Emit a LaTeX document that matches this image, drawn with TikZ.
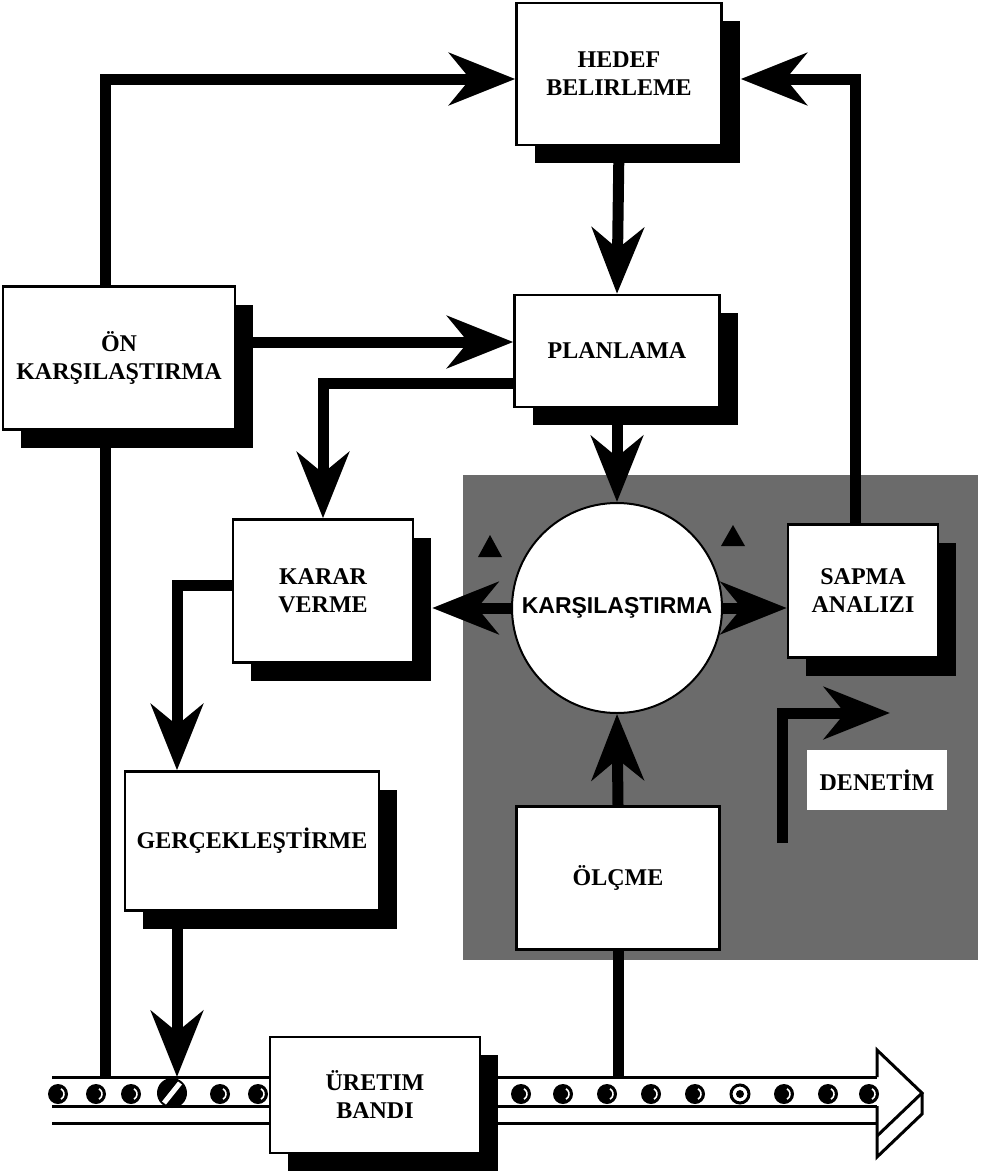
\documentclass[tikz,border=0pt]{standalone}
\usepackage{fontspec}
\setmainfont{Liberation Serif}
\setsansfont{Liberation Sans}
\usetikzlibrary{arrows.meta,shadows}

\tikzset{
  plainbox/.style={draw, line width=2.5pt, fill=white, align=center, inner sep=0pt,
    font=\fontsize{24}{28}\selectfont\bfseries},
  box/.style={plainbox,
    drop shadow={shadow xshift=18pt, shadow yshift=-18pt, fill=black, opacity=1}},
  arr/.style={line width=11pt, -{Stealth[length=66pt, width=52pt, inset=21pt]}},
  feed/.style={line width=11pt},
  band/.style={line width=3pt, line join=miter},
}

\begin{document}
\begin{tikzpicture}[x=1pt, y=-1pt]
  \useasboundingbox (0,0) rectangle (990,1175);
  % denetim alani
  \fill[black!58] (463,475) rectangle (978,960);
  % uretim bandi
  \foreach \xa/\xb in {52/270, 480/877}{
    \draw[band] (\xa,1077) -- (\xb,1077);
    \draw[band] (\xa,1106) -- (\xb,1106);
    \draw[band] (\xa,1123) -- (\xb,1123);
  }
  \draw[band] (877,1077) -- (877,1050) -- (922,1093) -- (877,1136);
  \draw[band] (922,1093) -- (922,1114) -- (877,1157) -- (877,1106);
  \foreach \x in {58,96,131,220,258,521,563,607,651,695,784,828,869}{
    \fill (\x,1094) circle (10);
    \draw[white, line width=1.6pt] ([shift={(-60:6)}]\x,1094) arc[start angle=-60, end angle=60, radius=6];
  }
  \draw[line width=3pt, fill=white] (740,1094) circle (9);
  \fill (740,1094) circle (4);
  \fill (172,1093) circle (15);
  \draw[white, line width=5pt] (164,1103) -- (180,1083);

  \node[box, minimum width=205pt, minimum height=142pt] (hedef) at(619,74) {HEDEF\\BELIRLEME};
  \node[box, minimum width=205pt, minimum height=112pt] (plan) at(617,351) {PLANLAMA};
  \node[box, minimum width=232pt, minimum height=143pt] (on) at(119,358) {ÖN\\KARŞILAŞTIRMA};
  \node[box, minimum width=180pt, minimum height=143pt] (karar) at(323,591) {KARAR\\VERME};
  \node[box, minimum width=254pt, minimum height=139pt] (gerc) at(252,841) {GERÇEKLEŞTİRME};
  \node[plainbox, minimum width=203pt, minimum height=143pt] (olcme) at(618,878) {ÖLÇME};
  \node[box, minimum width=150pt, minimum height=133pt] (sapma) at(863,591) {SAPMA\\ANALIZI};
  \node[box, minimum width=210pt, minimum height=116pt] (uretim) at(375,1095) {ÜRETIM\\BANDI};
  \node[plainbox, draw=none, minimum width=140pt, minimum height=60pt] (denetim) at(877,780) {DENETİM};
  \node[circle, draw, line width=2pt, fill=white, minimum size=210pt, inner sep=0pt,
    font=\fontsize{23}{27}\selectfont\sffamily\bfseries] (cmp) at(617,608) {KARŞILAŞTIRMA};

  \fill (478,557) -- (502,557) -- (490,535) -- cycle;
  \fill (721,546) -- (745,546) -- (733,525) -- cycle;

  \coordinate (c1) at(105,79);
  \coordinate (c2) at(855,79);
  \coordinate (c3) at(300,342);
  \coordinate (c4) at(323,383);
  \coordinate (c5) at(177,585);
  \coordinate (bt) at(0,1077);
  \coordinate (d1) at(782,843);
  \coordinate (d2) at(782,713);
  \coordinate (d3) at(890,713);

  \draw[arr] (c1 |- on.north) -- (c1) -- (c1 -| hedef.west);
  \draw[arr] (c2 |- sapma.north) -- (c2) -- ([xshift=18pt]c2 -| hedef.east);
  \draw[arr] (hedef.south) -- (plan.north);
  \draw[arr] (c3 -| on.east) -- (c3 -| plan.west);
  \draw[arr] (c4 -| plan.west) -- (c4) -- (karar.north);
  \draw[arr] (plan.south) -- (cmp.north);
  \draw[arr] (cmp.west) -- ([xshift=18pt]cmp.west -| karar.east);
  \draw[arr] (cmp.east) -- (cmp.east -| sapma.west);
  \draw[arr] (olcme.north) -- (cmp.south);
  \draw[arr] (c5 -| karar.west) -- (c5) -- (c5 |- gerc.north);
  \draw[arr] (c5 |- gerc.south) -- (c5 |- bt);
  \draw[feed] (olcme.south) -- (olcme.south |- bt);
  \draw[feed] (c1 |- on.south) -- (c1 |- bt);
  \draw[arr] (d1) -- (d2) -- (d3);
\end{tikzpicture}
\end{document}
